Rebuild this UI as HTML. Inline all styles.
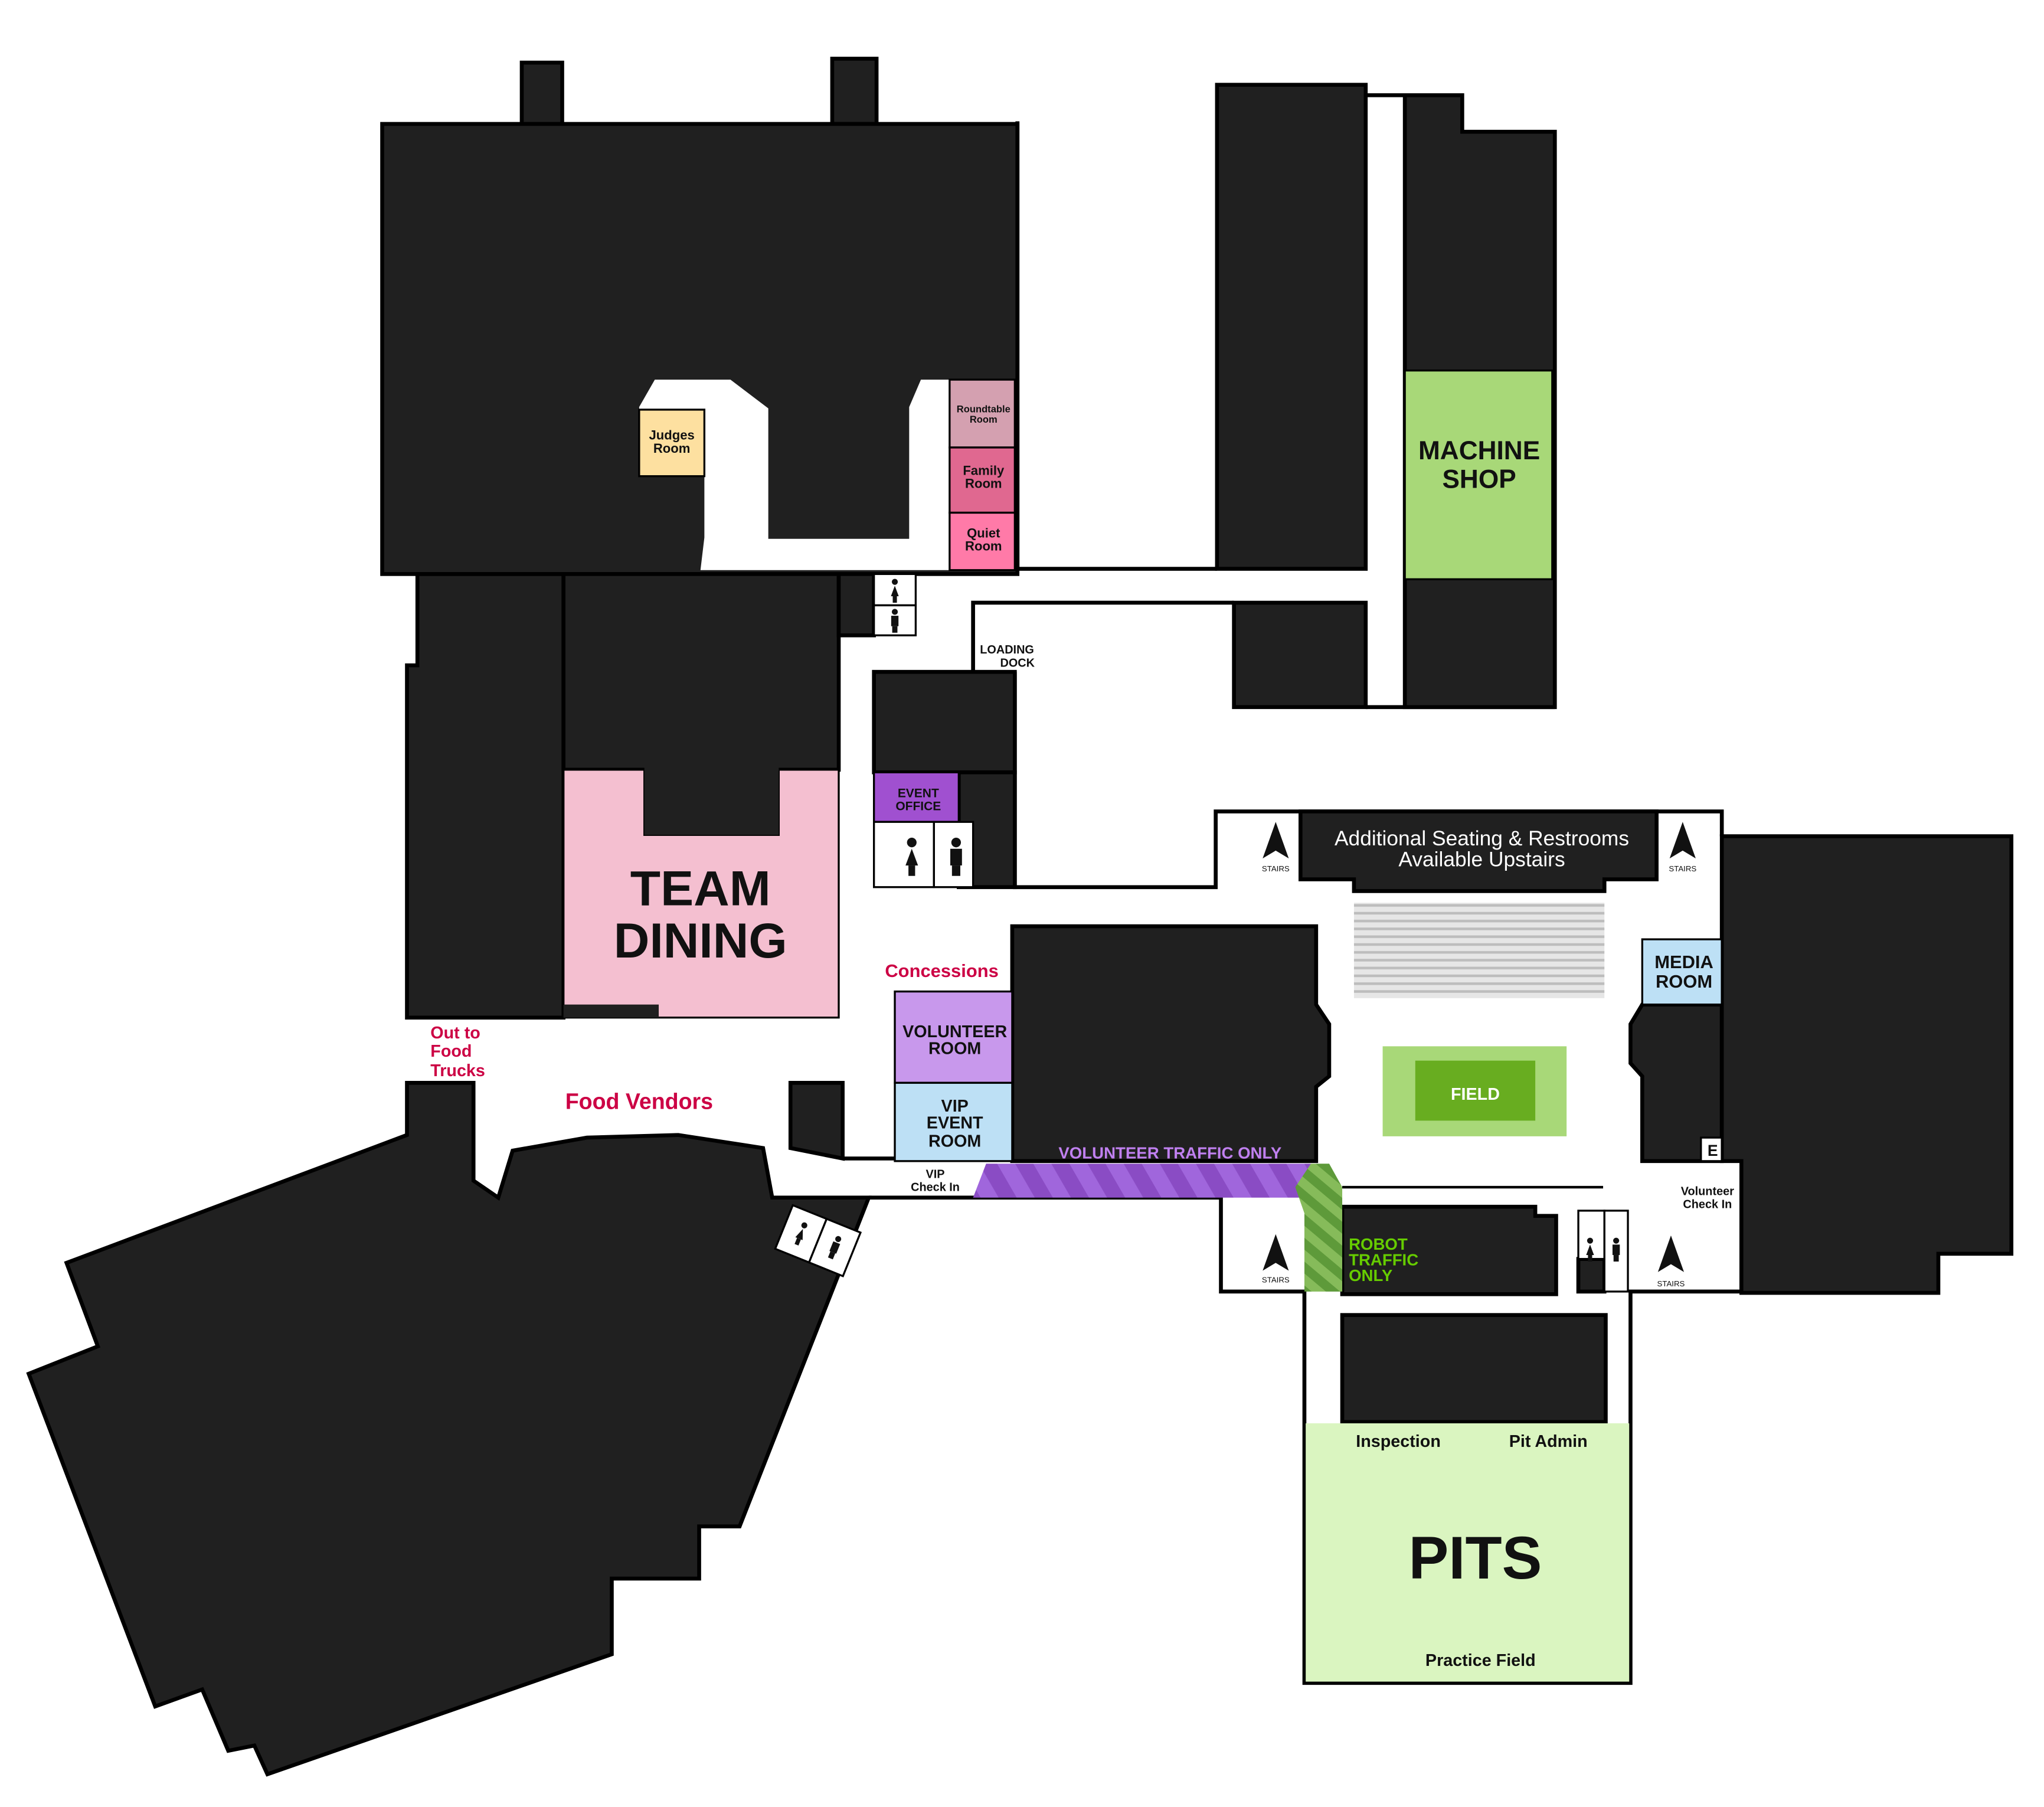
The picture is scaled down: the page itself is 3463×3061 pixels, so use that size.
<!DOCTYPE html>
<html><head><meta charset="utf-8"><style>
html,body{margin:0;padding:0;background:#fff;}
svg{display:block;}
text{font-family:"Liberation Sans",sans-serif;font-weight:bold;}
</style></head><body>
<svg width="3463" height="3061" viewBox="0 0 1567 1385.1" preserveAspectRatio="none" xmlns="http://www.w3.org/2000/svg">
<defs>
<pattern id="pur" width="24" height="24" patternUnits="userSpaceOnUse" patternTransform="rotate(-30)">
<rect width="24" height="24" fill="#8a4cc4"/><rect width="12" height="24" fill="#a066dc"/></pattern>
<pattern id="grn" width="14" height="14" patternUnits="userSpaceOnUse" patternTransform="rotate(-50)">
<rect width="14" height="14" fill="#5e9a3a"/><rect width="7" height="14" fill="#86bb5a"/></pattern>
<pattern id="blch" width="10" height="6" patternUnits="userSpaceOnUse">
<rect width="10" height="6" fill="#e6e6e6"/><rect y="3" width="10" height="2" fill="#bdbdbd"/></pattern>
<g id="st"><polygon points="0,-16 -10,12 0,6 10,12" fill="#111"/></g>
<g id="w"><circle cx="0" cy="-7" r="2.3" fill="#111"/><polygon points="0,-4 -3,4 3,4" fill="#111"/><rect x="-1.6" y="4" width="3.2" height="5" fill="#111"/></g>
<g id="m"><circle cx="0" cy="-7" r="2.3" fill="#111"/><rect x="-2.8" y="-4" width="5.6" height="8" fill="#111"/><rect x="-2" y="4" width="4" height="5" fill="#111"/></g>
</defs>
<g stroke="#000" stroke-width="3" fill="none">
<polyline points="780,93 780,436 933,436"/>
<polyline points="1047,73 1077,73"/>
<polyline points="1047,542 1192,542"/>
<polyline points="746,515 746,462 946,462"/>
<polyline points="778,515 778,680 932,680 932,622 1320,622 1320,641"/>
<polyline points="666,918 936,918 936,990 1000,990 1000,1290 1250,1290 1250,990 1335,990"/>
<polyline points="646,888 686,888"/>
<line x1="1029" y1="910" x2="1229" y2="910" stroke-width="2"/>
</g>
<g fill="#202020" stroke="#000" stroke-width="3">
<rect x="400" y="48" width="31" height="50"/>
<rect x="638" y="45" width="34" height="50"/>
<rect x="293" y="95" width="487" height="345"/>
<rect x="933" y="65" width="114" height="371"/>
<polygon points="1077,73 1121,73 1121,101 1192,101 1192,542 1077,542"/>
<rect x="946" y="462" width="101" height="80"/>
<polygon points="320,440 432,440 432,780 312,780 312,510 320,510"/>
<rect x="432" y="440" width="211" height="150"/>
<rect x="643" y="440" width="27" height="47"/>
<rect x="670" y="515" width="108" height="77"/>
<rect x="735" y="592" width="43" height="88"/>
<polygon points="997,622 1270,622 1270,674 1230,674 1230,683 1038,683 1038,674 997,674"/>
<polygon points="776,710 1009,710 1009,770 1019,785 1019,825 1009,833 1009,890 776,890"/>
<polygon points="1259,770 1320,770 1320,890 1259,890 1259,825 1250,815 1250,785"/>
<polygon points="1320,641 1542,641 1542,961 1486,961 1486,991 1335,991 1335,890 1320,890"/>
<polygon points="606,830 646,830 646,888 606,880"/>
<polygon points="312,830 363,830 363,905 382,918 393,882 450,872 520,870 585,880 592,918 666,918 567,1170 536,1170 536,1210 469,1210 469,1268 205,1360 195,1338 175,1342 155,1295 119,1308 22,1053 75,1032 51,968 312,870"/>
<polygon points="1029,925 1177,925 1177,932 1193,932 1193,992 1029,992"/>
<rect x="1029" y="1008" width="202" height="82"/>
<rect x="1210" y="965" width="20" height="25"/>
</g>
<polygon points="490,312 502,291 560,291 589,313 589,413 697,413 697,312 706,291 728,291 728,437 537,437 540,412 540,365 490,365" fill="#fff"/>
<line x1="780" y1="93" x2="780" y2="437" stroke="#000" stroke-width="3"/>
<g stroke="#000" stroke-width="1.5">
<rect x="490" y="314" width="50" height="51" fill="#fde0a0"/>
<rect x="728" y="291" width="50" height="52" fill="#d4a0b0"/>
<rect x="728" y="343" width="50" height="50" fill="#e06890"/>
<rect x="728" y="393" width="50" height="44" fill="#ff7aa8"/>
<rect x="1077" y="284" width="113" height="160" fill="#a8d878"/>
<rect x="670" y="592" width="65" height="38" fill="#a050d0"/>
<rect x="670" y="630" width="46" height="50" fill="#fff"/>
<rect x="716" y="630" width="30" height="50" fill="#fff"/>
<rect x="670" y="440" width="32" height="24" fill="#fff"/>
<rect x="670" y="464" width="32" height="23" fill="#fff"/>
<rect x="1259" y="720" width="61" height="50" fill="#bde0f5"/>
<rect x="686" y="760" width="90" height="70" fill="#c898ec"/>
<rect x="686" y="830" width="90" height="60" fill="#bde0f5"/>
<rect x="1304" y="872" width="16" height="18" fill="#fff"/>
<rect x="1210" y="928" width="20" height="37" fill="#fff"/>
<rect x="1230" y="928" width="18" height="62" fill="#fff"/>
</g>
<polygon points="432,590 494,590 494,640 597,640 597,590 643,590 643,780 432,780" fill="#f4bfd0" stroke="#000" stroke-width="1.5"/>
<rect x="494" y="588" width="103" height="52" fill="#202020"/>
<rect x="432" y="770" width="73" height="10" fill="#202020"/>
<rect x="1038" y="692" width="192" height="73" fill="url(#blch)"/>
<rect x="1060" y="802" width="141" height="69" fill="#a8d878"/>
<rect x="1085" y="813" width="92" height="46" fill="#68ad20"/>
<rect x="1001" y="1091" width="248" height="198" fill="#daf5c0"/>
<polygon points="746,918 756,892 1005,892 996,918" fill="url(#pur)"/>
<polygon points="1005,892 1019,892 1029,910 1029,990 1000,990 1000,930 993,910" fill="url(#grn)"/>
<g transform="translate(627,951) rotate(22)">
<rect x="-28" y="-18" width="28" height="36" fill="#fff" stroke="#000" stroke-width="1.5"/>
<rect x="0" y="-18" width="28" height="36" fill="#fff" stroke="#000" stroke-width="1.5"/>
<use href="#w" x="-14" y="0"/><use href="#m" x="14" y="0"/>
</g>
<use href="#w" x="686" y="453"/><use href="#m" x="686" y="476"/>
<g transform="translate(699,657) scale(1.6)"><use href="#w"/></g>
<g transform="translate(733,657) scale(1.6)"><use href="#m"/></g>
<use href="#w" x="1219" y="958"/><use href="#m" x="1239" y="958"/>
<use href="#st" x="978" y="646"/><use href="#st" x="1290" y="646"/>
<use href="#st" x="978" y="962"/><use href="#st" x="1281" y="963"/>
<g font-size="6" text-anchor="middle" fill="#111">
<text x="978" y="668" style="font-weight:normal">STAIRS</text><text x="1290" y="668" style="font-weight:normal">STAIRS</text>
<text x="978" y="983" style="font-weight:normal">STAIRS</text><text x="1281" y="986" style="font-weight:normal">STAIRS</text>
</g>
<g text-anchor="middle" fill="#111">
<text x="515" y="337" font-size="10">Judges</text><text x="515" y="347" font-size="10">Room</text>
<text x="754" y="316" font-size="7.5">Roundtable</text><text x="754" y="324" font-size="7.5">Room</text>
<text x="754" y="364" font-size="10">Family</text><text x="754" y="374" font-size="10">Room</text>
<text x="754" y="412" font-size="10">Quiet</text><text x="754" y="422" font-size="10">Room</text>
<text x="1134" y="352" font-size="20">MACHINE</text><text x="1134" y="374" font-size="20">SHOP</text>
<text x="772" y="501" font-size="9">LOADING</text><text x="780" y="511" font-size="9">DOCK</text>
<text x="704" y="611" font-size="9.5">EVENT</text><text x="704" y="621" font-size="9.5">OFFICE</text>
<text x="537" y="694" font-size="38">TEAM</text><text x="537" y="734" font-size="38">DINING</text>
<text x="1136" y="648" font-size="16" fill="#fff" style="font-weight:normal">Additional Seating &amp; Restrooms</text>
<text x="1136" y="664" font-size="16" fill="#fff" style="font-weight:normal">Available Upstairs</text>
<text x="1291" y="742" font-size="14">MEDIA</text><text x="1291" y="757" font-size="14">ROOM</text>
<text x="1131" y="843" font-size="13" fill="#fff">FIELD</text>
<text x="722" y="749" font-size="14" fill="#cc0044">Concessions</text>
<text x="732" y="795" font-size="13">VOLUNTEER</text><text x="732" y="808" font-size="13">ROOM</text>
<text x="732" y="852" font-size="13">VIP</text><text x="732" y="865" font-size="13">EVENT</text><text x="732" y="879" font-size="13">ROOM</text>
<text x="490" y="850" font-size="17" fill="#cc0044">Food Vendors</text>
<text x="717" y="903" font-size="9">VIP</text><text x="717" y="913" font-size="9">Check In</text>
<text x="897" y="888" font-size="12.5" fill="#c080f0">VOLUNTEER TRAFFIC ONLY</text>
<text x="1313" y="886" font-size="12">E</text>
<text x="1309" y="916" font-size="9">Volunteer</text><text x="1309" y="926" font-size="9">Check In</text>
<text x="1072" y="1109" font-size="13">Inspection</text>
<text x="1187" y="1109" font-size="13">Pit Admin</text>
<text x="1131" y="1210" font-size="46">PITS</text>
<text x="1135" y="1277" font-size="13">Practice Field</text>
</g>
<g fill="#cc0044" font-size="13">
<text x="330" y="796">Out to</text><text x="330" y="810">Food</text><text x="330" y="825">Trucks</text>
</g>
<g fill="#66cc00" font-size="12.5">
<text x="1034" y="958">ROBOT</text><text x="1034" y="970">TRAFFIC</text><text x="1034" y="982">ONLY</text>
</g>
</svg>
</body></html>
